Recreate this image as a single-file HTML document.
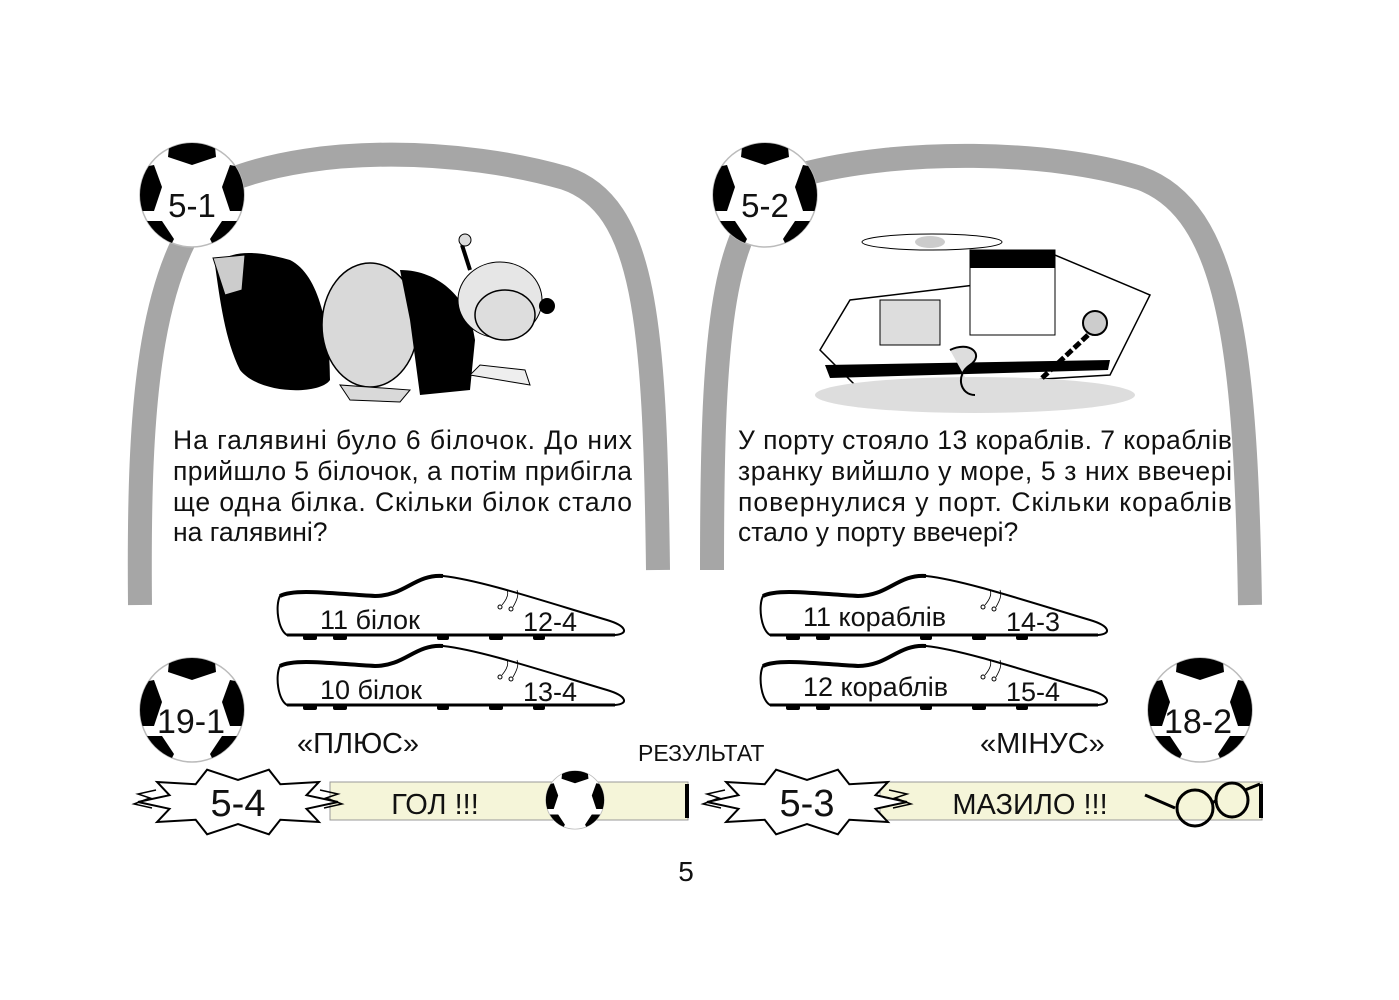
<!DOCTYPE html>
<html><head><meta charset="utf-8"><style>
html,body{margin:0;padding:0;background:#fff}
svg{display:block}
text{font-family:"Liberation Sans",Arial,sans-serif;fill:#111}
</style></head><body>
<svg width="1399" height="1000" viewBox="0 0 1399 1000" xmlns="http://www.w3.org/2000/svg">
<defs>
<clipPath id="bc"><circle cx="0" cy="0" r="52"/></clipPath>
<g id="ball">
<circle cx="0" cy="0" r="52" fill="#fff" stroke="#bbb" stroke-width="1.5"/>
<g clip-path="url(#bc)" fill="#000">
<polygon points="-22,-58 22,-58 24,-38 0,-30 -24,-38"/>
<polygon points="-58,-26 -38,-30 -30,-8 -38,16 -58,16"/>
<polygon points="58,-26 38,-30 30,-8 38,16 58,16"/>
<polygon points="-50,26 -30,26 -18,44 -26,60 -52,60"/>
<polygon points="50,26 30,26 18,44 26,60 52,60"/>
</g>
</g>
<g id="shoe">
<path d="M5,22 C20,14 60,20 100,22 C130,22 140,0 168,2 C205,6 265,26 332,46 C352,52 354,60 340,61 L12,61 C3,56 0,32 5,22 Z" fill="#fff" stroke="#000" stroke-width="2"/>
<path d="M5,22 C20,14 60,20 100,22 C130,22 140,0 168,2" fill="none" stroke="#000" stroke-width="4"/>
<line x1="12" y1="61" x2="340" y2="61" stroke="#000" stroke-width="3"/>
<g fill="#000"><rect x="28" y="61" width="14" height="5" rx="2"/><rect x="58" y="61" width="14" height="5" rx="2"/><rect x="162" y="61" width="12" height="5" rx="2"/><rect x="214" y="61" width="14" height="5" rx="2"/><rect x="258" y="61" width="12" height="5" rx="2"/></g>
<circle cx="225" cy="33" r="2" fill="none" stroke="#000"/><circle cx="236" cy="35" r="2" fill="none" stroke="#000"/>
<path d="M227,31 C232,25 234,20 232,16 M238,33 C242,26 244,21 242,16" fill="none" stroke="#000" stroke-width="0.8"/>
</g>
<g id="star">
<polygon points="100,0 68.5,6.8 80.9,20 42.3,17.8 30.9,32.3 0,22 -30.9,32.3 -42.3,17.8 -80.9,20 -68.5,6.8 -100,0 -68.5,-6.8 -80.9,-20 -42.3,-17.8 -30.9,-32.3 0,-22 30.9,-32.3 42.3,-17.8 80.9,-20 68.5,-6.8" fill="#fff" stroke="#000" stroke-width="2"/>
<path d="M-82,-12 l-18,4 12,4 -16,6 18,4 M82,-12 l18,4 -12,4 16,6 -18,4" fill="none" stroke="#000" stroke-width="1.5"/>
</g>
</defs>

<path d="M140,605 C138,400 148,250 230,180 C320,145 460,148 565,178 C645,205 655,320 658,570" fill="none" stroke="#a6a6a6" stroke-width="24"/>
<path d="M712,570 C712,320 722,205 800,175 C900,148 1050,150 1140,178 C1230,210 1246,350 1250,605" fill="none" stroke="#a6a6a6" stroke-width="24"/>

<g>
<path d="M215,265 C230,250 255,250 290,260 C320,275 330,330 330,380 C320,395 260,395 240,370 C225,340 220,300 215,265 Z" fill="#000"/>
<path d="M213,258 L245,255 L242,290 L225,295 Z" fill="#ccc" stroke="#000"/>
<ellipse cx="370" cy="325" rx="48" ry="62" fill="#d9d9d9" stroke="#000" stroke-width="1.5"/>
<path d="M400,270 C440,270 470,300 475,340 L470,390 L420,395 L410,320 Z" fill="#000"/>
<ellipse cx="500" cy="300" rx="42" ry="38" fill="#e6e6e6" stroke="#000"/>
<ellipse cx="505" cy="315" rx="30" ry="25" fill="#ddd" stroke="#000" stroke-width="1.5"/>
<circle cx="547" cy="306" r="8" fill="#000"/>
<path d="M470,270 L462,245" stroke="#000" stroke-width="4"/><circle cx="465" cy="240" r="6" fill="#ddd" stroke="#000"/>
<path d="M340,385 L350,400 L400,402 L410,390 Z" fill="#d9d9d9" stroke="#000"/>
<path d="M470,375 L530,385 L525,370 L480,365 Z" fill="#eee" stroke="#000"/>
</g>

<g>
<ellipse cx="932" cy="242" rx="70" ry="8" fill="#fff" stroke="#000"/>
<ellipse cx="930" cy="242" rx="15" ry="6" fill="#ccc"/>
<path d="M820,350 L850,300 L975,285 L1055,255 L1150,295 L1110,375 L860,390 Z" fill="#fff" stroke="#000" stroke-width="1.5"/>
<rect x="970" y="250" width="85" height="85" fill="#fff" stroke="#000"/>
<rect x="970" y="250" width="85" height="18" fill="#000"/>
<rect x="880" y="300" width="60" height="45" fill="#ddd" stroke="#000"/>
<path d="M825,365 L1110,360 L1108,370 L830,378 Z" fill="#000"/>
<ellipse cx="975" cy="395" rx="160" ry="18" fill="#ddd"/>
<circle cx="1095" cy="323" r="12" fill="#ccc" stroke="#000" stroke-width="2"/>
<path d="M1088,335 L1040,380" stroke="#000" stroke-width="5" stroke-dasharray="8 3"/>
<path d="M950,350 C970,340 985,355 970,365 C955,375 960,395 975,395" fill="#ddd" stroke="#000" stroke-width="2"/>
</g>

<use href="#ball" x="192" y="195"/>
<text x="192" y="217" font-size="33" text-anchor="middle">5-1</text>
<use href="#ball" x="765" y="195"/>
<text x="765" y="217" font-size="33" text-anchor="middle">5-2</text>
<use href="#ball" x="192" y="710"/>
<text x="191" y="733" font-size="34" text-anchor="middle">19-1</text>
<use href="#ball" x="1200" y="710"/>
<text x="1198" y="733" font-size="34" text-anchor="middle">18-2</text>

<g font-size="26.5">
<text x="173" y="449" textLength="459" lengthAdjust="spacing">На галявині було 6 білочок. До них</text>
<text x="173" y="480" textLength="459" lengthAdjust="spacing">прийшло 5 білочок, а потім прибігла</text>
<text x="173" y="511" textLength="459" lengthAdjust="spacing">ще одна білка. Скільки білок стало</text>
<text x="173" y="541">на галявині?</text>
<text x="738" y="449" textLength="494" lengthAdjust="spacing">У порту стояло 13 кораблів. 7 кораблів</text>
<text x="738" y="480" textLength="494" lengthAdjust="spacing">зранку вийшло у море, 5 з них ввечері</text>
<text x="738" y="511" textLength="494" lengthAdjust="spacing">повернулися у порт. Скільки кораблів</text>
<text x="738" y="541">стало у порту ввечері?</text>
</g>

<use href="#shoe" x="275" y="574"/>
<use href="#shoe" x="275" y="644"/>
<use href="#shoe" x="758" y="574"/>
<use href="#shoe" x="758" y="644"/>
<g font-size="27">
<text x="320" y="629">11 білок</text>
<text x="523" y="631">12-4</text>
<text x="320" y="699">10 білок</text>
<text x="523" y="701">13-4</text>
<text x="803" y="626">11 кораблів</text>
<text x="1006" y="631">14-3</text>
<text x="803" y="696">12 кораблів</text>
<text x="1006" y="701">15-4</text>
</g>

<g font-size="29">
<text x="297" y="753">«ПЛЮС»</text>
<text x="980" y="753">«МІНУС»</text>
</g>
<text x="638" y="761" font-size="23">РЕЗУЛЬТАТ</text>

<rect x="330" y="782" width="358" height="38" fill="#f5f5d9" stroke="#999" stroke-width="1"/>
<line x1="687" y1="784" x2="687" y2="818" stroke="#000" stroke-width="4"/>
<use href="#star" x="238" y="802"/>
<text x="238" y="816" font-size="38" text-anchor="middle">5-4</text>
<text x="435" y="814" font-size="29" text-anchor="middle">ГОЛ !!!</text>
<g transform="translate(575,800) scale(0.56)"><use href="#ball"/></g>

<rect x="880" y="782" width="382" height="38" fill="#f5f5d9" stroke="#999" stroke-width="1"/>
<line x1="1261" y1="784" x2="1261" y2="818" stroke="#000" stroke-width="4"/>
<use href="#star" x="807" y="802"/>
<text x="807" y="816" font-size="38" text-anchor="middle">5-3</text>
<text x="1030" y="814" font-size="29" text-anchor="middle">МАЗИЛО !!!</text>
<g fill="none" stroke="#000" stroke-width="3">
<path d="M1145,795 L1175,808"/>
<ellipse cx="1195" cy="808" rx="18" ry="18"/>
<ellipse cx="1232" cy="800" rx="16" ry="17"/>
<path d="M1212,803 L1217,800 M1245,790 L1260,784"/>
</g>

<text x="686" y="881" font-size="28" text-anchor="middle">5</text>
</svg>
</body></html>
